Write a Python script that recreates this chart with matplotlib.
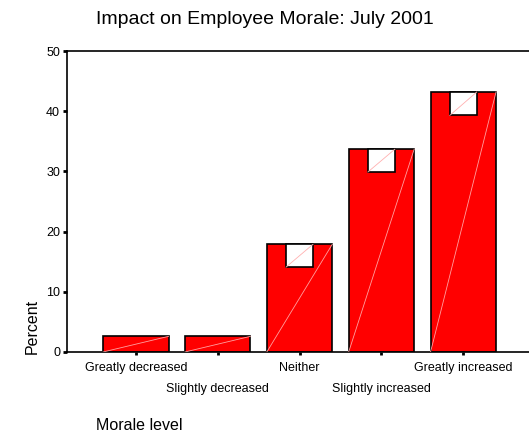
import matplotlib
matplotlib.use("Agg")
import matplotlib.pyplot as plt
import matplotlib.transforms as mtransforms
import numpy as np

plt.rcParams["font.family"] = ["Liberation Sans", "DejaVu Sans"]

# Morale survey, July 2001
categories = ["Greatly decreased", "Slightly decreased", "Neither",
              "Slightly increased", "Greatly increased"]
percent = [2.6, 2.6, 17.9, 33.7, 43.2]
# height of the white marker box drawn at the top of each bar (None = no box)
box_height = [None, None, 3.8, 3.8, 3.9]
yticks = [0, 10, 20, 30, 40, 50]

BAR_W = 0.8
BOX_W = 0.33

fig = plt.figure(figsize=(5.29, 4.34), dpi=100)
ax = fig.add_axes([67 / 529, 82 / 434, 470 / 529, 301 / 434])

x = np.arange(len(categories))
bars = ax.bar(x, percent, width=BAR_W, color="#ff0000",
              edgecolor="black", linewidth=1.2, zorder=2)

# faint diagonal highlight across each bar
for b in bars:
    x0, w, h = b.get_x(), b.get_width(), b.get_height()
    ax.plot([x0, x0 + w], [0, h], color="#ffa0a0", lw=0.6, zorder=3)

# white marker boxes at bar tops
for xi, v, bh in zip(x, percent, box_height):
    if bh is None:
        continue
    ax.bar(xi, bh, bottom=v - bh, width=BOX_W, color="white",
           edgecolor="black", linewidth=1.2, zorder=4)
    ax.plot([xi - BOX_W / 2, xi + BOX_W / 2], [v - bh, v],
            color="#ffb0b0", lw=0.6, zorder=5)

ax.set_xlim(-0.84, 4.9)
ax.set_ylim(0, 50)
ax.set_yticks(yticks)
ax.set_xticks(x)
ax.set_xticklabels(categories, fontsize=9)
ax.tick_params(axis="y", labelsize=9, length=3, width=2, pad=2)
ax.tick_params(axis="x", length=2.5, width=2, pad=5)

# stagger every second category label onto a lower row
drop = mtransforms.ScaledTranslation(0, -0.21, fig.dpi_scale_trans)
for lbl in ax.get_xticklabels()[1::2]:
    lbl.set_transform(lbl.get_transform() + drop)

ax.spines["right"].set_visible(False)
for s in ("left", "bottom", "top"):
    ax.spines[s].set_linewidth(1.2)

fig.text(32 / 529, 1 - 326 / 434, "Percent", rotation=90,
         ha="center", va="center", fontsize=11.5)
fig.text(96 / 529, 1 - 425 / 434, "Morale level",
         ha="left", va="center", fontsize=11.5)
fig.text(96 / 529, 1 - 20 / 434, "Impact on Employee Morale: July 2001",
         ha="left", va="center", fontsize=14)

fig.savefig("out.png", dpi=100)
